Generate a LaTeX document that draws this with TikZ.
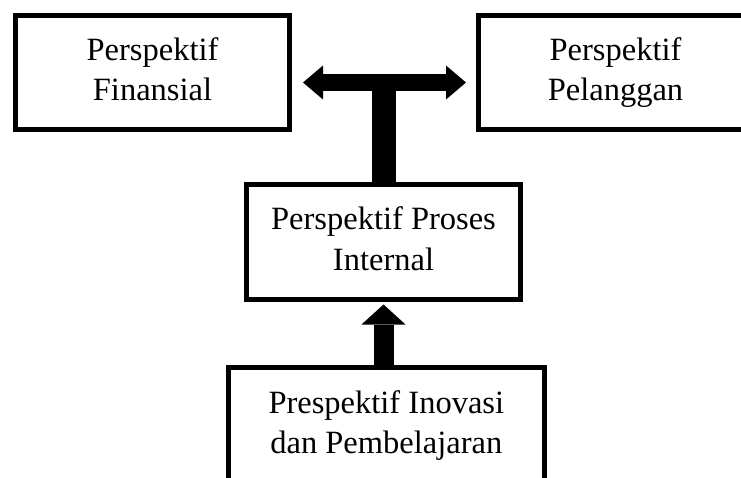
\documentclass[tikz,border=0pt]{standalone}
\usepackage{fontspec}
\setmainfont{Liberation Serif}
\usetikzlibrary{arrows.meta,positioning}

\begin{document}
\begin{tikzpicture}[x=1pt, y=-1pt,
    persp/.style={draw, line width=5pt, align=center, inner sep=0pt,
      font=\fontsize{32.5}{40.5}\selectfont},
    sidehead/.tip={Triangle[length=20pt, width=34pt, line width=0pt]},
    uphead/.tip={Triangle[length=20pt, width=44pt, line width=0pt]}]

  % ---------- page frame, pixel units with y running downwards
  \useasboundingbox (0,0) rectangle (741,478);
  \clip (0,0) rectangle (741,478);

  % ---------- the four perspectives (struts keep the baselines even)
  \node[persp, minimum width=274pt, minimum height=114pt] (fin) at (152.5,72.5) {\strut Perspektif\\\strut Finansial};
  \node[persp, minimum width=274pt, minimum height=114pt] (pel) at (615.5,72.5) {\strut Perspektif\\\strut Pelanggan};
  \node[persp, minimum width=274pt, minimum height=115pt] (pro) at (383.5,242) {\strut Perspektif Proses\\\strut Internal};
  % bottom box runs off the page, so an empty third line lifts its text
  \node[persp, minimum width=316pt, minimum height=156pt] (ino) at (386.3,445.5) {\strut Prespektif Inovasi\\\strut dan Pembelajaran\\\strut};

  % ---------- block arrows
  \coordinate (tee) at (383.5,82.5);
  \draw[line width=17pt, sidehead-sidehead, shorten <=11pt, shorten >=10pt]
    (fin.east |- tee) -- (pel.west |- tee);
  \draw[line width=24pt] (pro.north) -- (tee);
  \draw[line width=20pt, -uphead, shorten >=2.5pt] (pro.south |- ino.north) -- (pro.south);
\end{tikzpicture}
\end{document}
